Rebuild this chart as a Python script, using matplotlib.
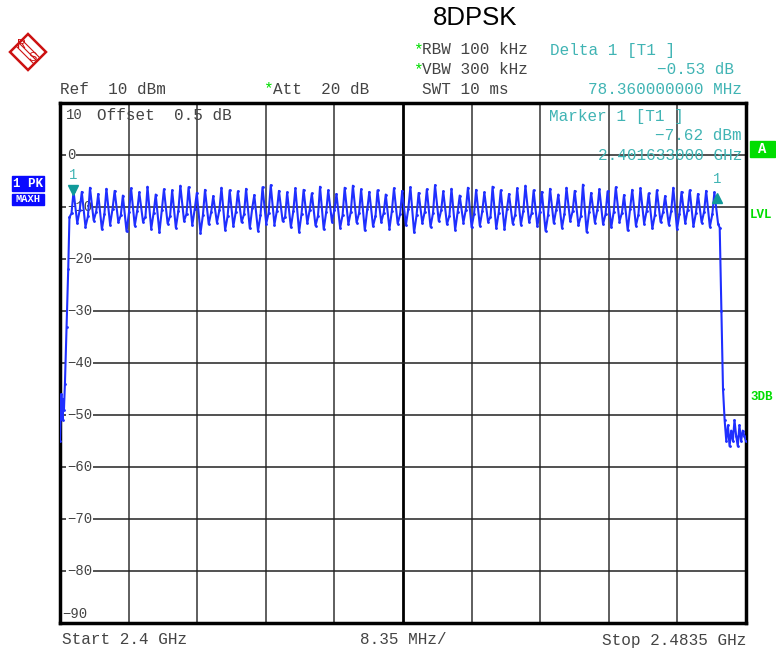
import matplotlib.pyplot as plt
import matplotlib.patches as mpatches

# spectrum analyser screenshot: 8DPSK hopping, 79 channels
f_start, f_stop = 2.4, 2.4835          # GHz
ref_top, ref_bottom = 10, -90          # dBm
level_ticks = [0, -10, -20, -30, -40, -50, -60, -70, -80]

channel_first = 2.402                  # GHz
channel_step = 0.001                   # GHz

# per channel levels (dBm)
peaks = [-7.0, -7.1, -6.3, -7.5, -6.5, -6.9, -7.8, -6.4, -7.2, -6.1,
         -7.6, -6.6, -6.8, -5.9, -6.2, -7.3, -6.7, -7.9, -6.3, -6.8,
         -7.0, -6.5, -7.7, -6.2, -5.8, -6.9, -7.2, -6.4, -6.7, -7.4,
         -6.1, -6.8, -7.5, -6.3, -5.9, -6.6, -7.1, -6.8, -7.6, -6.4,
         -6.9, -6.2, -7.3, -6.6, -5.8, -7.0, -6.5, -7.8, -6.3, -6.7,
         -7.2, -6.1, -6.8, -7.5, -6.4, -5.9, -6.8, -7.1, -6.5, -7.6,
         -6.3, -6.9, -5.7, -7.3, -6.6, -7.0, -6.2, -7.7, -6.7, -6.4,
         -7.4, -6.8, -7.9, -6.3, -7.1, -6.8, -7.5, -6.9, -7.2]
shoulders = [-11.2, -10.6, -11.8, -10.9, -11.4, -10.3, -11.6, -11.0, -10.7, -11.9,
             -11.1, -10.5, -11.7, -10.8, -11.3, -10.4, -11.5, -11.0, -10.6, -11.8,
             -10.9, -11.4, -10.2, -11.6, -11.1, -10.7, -11.9, -10.8, -11.3, -10.5,
             -11.7, -11.0, -10.6, -11.5, -10.9, -11.2, -10.4, -11.8, -11.1, -10.7,
             -11.4, -10.3, -11.6, -10.9, -11.2, -10.6, -11.7, -11.0, -10.5, -11.3,
             -10.8, -11.9, -11.1, -10.4, -11.5, -10.7, -11.2, -10.9, -11.6, -10.5,
             -11.3, -10.8, -11.7, -11.0, -10.6, -11.4, -10.9, -11.1, -10.3, -11.5,
             -10.8, -11.6, -11.0, -10.7, -11.3, -10.5, -11.2, -10.9, -11.4]
dips = [-13.1, -13.8, -12.6, -14.3, -13.4, -12.9, -14.7, -13.6, -12.8, -14.2,
        -14.9, -13.2, -14.0, -12.7, -13.5, -15.0, -13.3, -13.0, -14.4, -13.7,
        -12.9, -14.1, -14.6, -13.2, -13.4, -12.7, -13.9, -14.8, -13.1, -13.6,
        -14.3, -12.8, -14.0, -13.3, -13.0, -14.5, -13.7, -12.9, -14.2, -13.2,
        -13.5, -14.9, -13.1, -13.8, -12.7, -13.3, -14.4, -13.0, -13.9, -13.6,
        -12.8, -14.1, -14.3, -13.2, -13.4, -12.9, -13.7, -14.6, -13.1, -14.0,
        -12.7, -13.5, -14.8, -13.0, -13.3, -13.9, -12.8, -14.5, -13.6, -13.2,
        -14.1, -12.9, -13.4, -14.3, -13.1, -13.7, -13.0, -13.8, -13.2]

# band edges (GHz, dBm)
left_f = [2.4000, 2.40008, 2.40016, 2.40024, 2.40032, 2.40040, 2.40048,
          2.40060, 2.40080, 2.40100, 2.40115]
left_db = [-55, -50, -46, -48, -51, -47, -49, -44, -33, -22, -12]
right_f = [2.4803, 2.4805, 2.4807, 2.4809, 2.4811, 2.4813, 2.4815, 2.4817,
           2.4819, 2.4821, 2.4823, 2.4825, 2.4827, 2.4829, 2.4831, 2.4833, 2.4835]
right_db = [-14, -30, -45, -51, -55, -52, -56, -53, -55, -51, -54, -56,
            -52, -55, -53, -54, -55]

marker1_f, marker1_db = 2.401633, -7.62
delta_f, delta_db = 2.401633 + 0.07836, -7.62 - 0.53

# build the trace
trace_f = list(left_f)
trace_db = list(left_db)
for k in range(len(peaks)):
    fc = channel_first + k * channel_step
    trace_f += [fc - 0.0006, fc - 0.00035, fc + 0.0001]
    trace_db += [shoulders[k], peaks[k], dips[k]]
trace_f += right_f
trace_db += right_db

W, H = 776, 655
fig = plt.figure(figsize=(W / 100, H / 100), dpi=100)
ax = fig.add_axes([60 / W, 1 - 623 / H, 686 / W, 520 / H])

mono = 'Liberation Mono'
gray = '#444444'
teal = '#40b4b4'
green = '#00dd00'

ax.plot(trace_f, trace_db, color='#1f2fff', lw=1.5, marker='.', ms=2, zorder=3)

ax.set_xlim(f_start, f_stop)
ax.set_ylim(ref_bottom, ref_top)
for i in range(1, 10):
    xv = f_start + i * (f_stop - f_start) / 10
    ax.axvline(xv, color='black' if i == 5 else '#333333',
               lw=2.0 if i == 5 else 1.1, zorder=1)
for lv in level_ticks:
    ax.axhline(lv, color='#222222', lw=1.1, zorder=1)
    ax.text(f_start + 0.00085, lv, '\u2212' + str(-lv) if lv < 0 else str(lv),
            fontfamily=mono, fontsize=10, color=gray, va='center', ha='left',
            zorder=2, bbox=dict(facecolor='white', edgecolor='none', pad=0.5))
ax.text(f_start + 0.0007, 7.7, '10', fontfamily=mono, fontsize=10, color=gray,
        va='center', ha='left')
ax.text(f_start + 0.0003, -88.2, '\u221290', fontfamily=mono, fontsize=10,
        color=gray, va='center', ha='left')
ax.set_xticks([])
ax.set_yticks([])
for s in ax.spines.values():
    s.set_linewidth(2.5)

# markers
ax.plot([marker1_f], [marker1_db + 0.8], marker='v', color='#109a9a', ms=7, zorder=4)
ax.text(marker1_f, marker1_db + 2.4, '1', color=teal, fontfamily=mono,
        fontsize=10, ha='center', va='bottom')
ax.plot([delta_f], [delta_db - 0.2], marker='^', color='#109a9a', ms=7, zorder=4)
ax.text(delta_f, delta_db + 2.2, '1', color=teal, fontfamily=mono,
        fontsize=10, ha='center', va='bottom')


def ptext(x, y, s, **kw):
    kw.setdefault('fontfamily', mono)
    kw.setdefault('fontsize', 11.5)
    kw.setdefault('color', gray)
    kw.setdefault('va', 'center')
    fig.text(x / W, 1 - y / H, s, **kw)


ptext(475, 18, '8DPSK', fontfamily='Liberation Sans', fontsize=18.5,
      color='black', ha='center')

ptext(413, 50, '*', color=green)
ptext(422, 50, 'RBW 100 kHz')
ptext(413, 70, '*', color=green)
ptext(422, 70, 'VBW 300 kHz')
ptext(422, 89, 'SWT 10 ms')
ptext(550, 50, 'Delta 1 [T1 ]', color=teal)
ptext(734, 70, '\u22120.53 dB', color=teal, ha='right')
ptext(742, 89, '78.360000000 MHz', color=teal, ha='right')
ptext(60, 89, 'Ref  10 dBm')
ptext(263, 89, '*', color=green)
ptext(273, 89, 'Att  20 dB')
ptext(97, 116, 'Offset  0.5 dB')
ptext(549, 117, 'Marker 1 [T1 ]', color=teal)
ptext(742, 136, '\u22127.62 dBm', color=teal, ha='right')
ptext(742, 155, '2.401633000 GHz', color=teal, ha='right')

ptext(62, 640, 'Start 2.4 GHz')
ptext(403, 640, '8.35 MHz/', ha='center')
ptext(746, 640, 'Stop 2.4835 GHz', ha='right')

# right side status labels
fig.patches.append(mpatches.Rectangle((750 / W, 1 - 157 / H), 25 / W, 16 / H,
                                      transform=fig.transFigure, color=green))
ptext(762, 149, 'A', color='white', ha='center', fontweight='bold', fontsize=10)
ptext(750, 215, 'LVL', color=green, fontsize=9, fontweight='bold')
ptext(750, 397, '3DB', color=green, fontsize=9, fontweight='bold')

# left trace label
fig.patches.append(mpatches.Rectangle((12 / W, 1 - 191 / H), 32 / W, 15 / H,
                                      transform=fig.transFigure, color='#0a0aff'))
fig.patches.append(mpatches.Rectangle((12 / W, 1 - 205 / H), 32 / W, 11 / H,
                                      transform=fig.transFigure, color='#0a0aff'))
ptext(28, 184, '1 PK', color='white', ha='center', fontsize=9, fontweight='bold')
ptext(28, 199, 'MAXH', color='white', ha='center', fontsize=7.5, fontweight='bold')

# R&S logo
cx, cy, r = 28 / W, 1 - 52 / H, 18
diamond = mpatches.Polygon([(cx, cy + r / H), (cx + r / W, cy), (cx, cy - r / H),
                            (cx - r / W, cy)], closed=True, fill=False,
                           edgecolor='#cc1111', lw=1.8, transform=fig.transFigure)
fig.patches.append(diamond)
for d in (-3, 0, 3):
    fig.lines.append(plt.Line2D([(28 - 9 + d) / W, (28 + 9 + d) / W],
                                [1 - (52 - 9 - d) / H, 1 - (52 + 9 - d) / H],
                                color='#cc1111', lw=0.8, transform=fig.transFigure))
ptext(22, 45, 'R', color='#cc1111', fontfamily='Liberation Sans', fontsize=9,
      ha='center')
ptext(33, 58, 'S', color='#cc1111', fontfamily='Liberation Sans', fontsize=9,
      ha='center')

fig.savefig('out.png', dpi=100)
